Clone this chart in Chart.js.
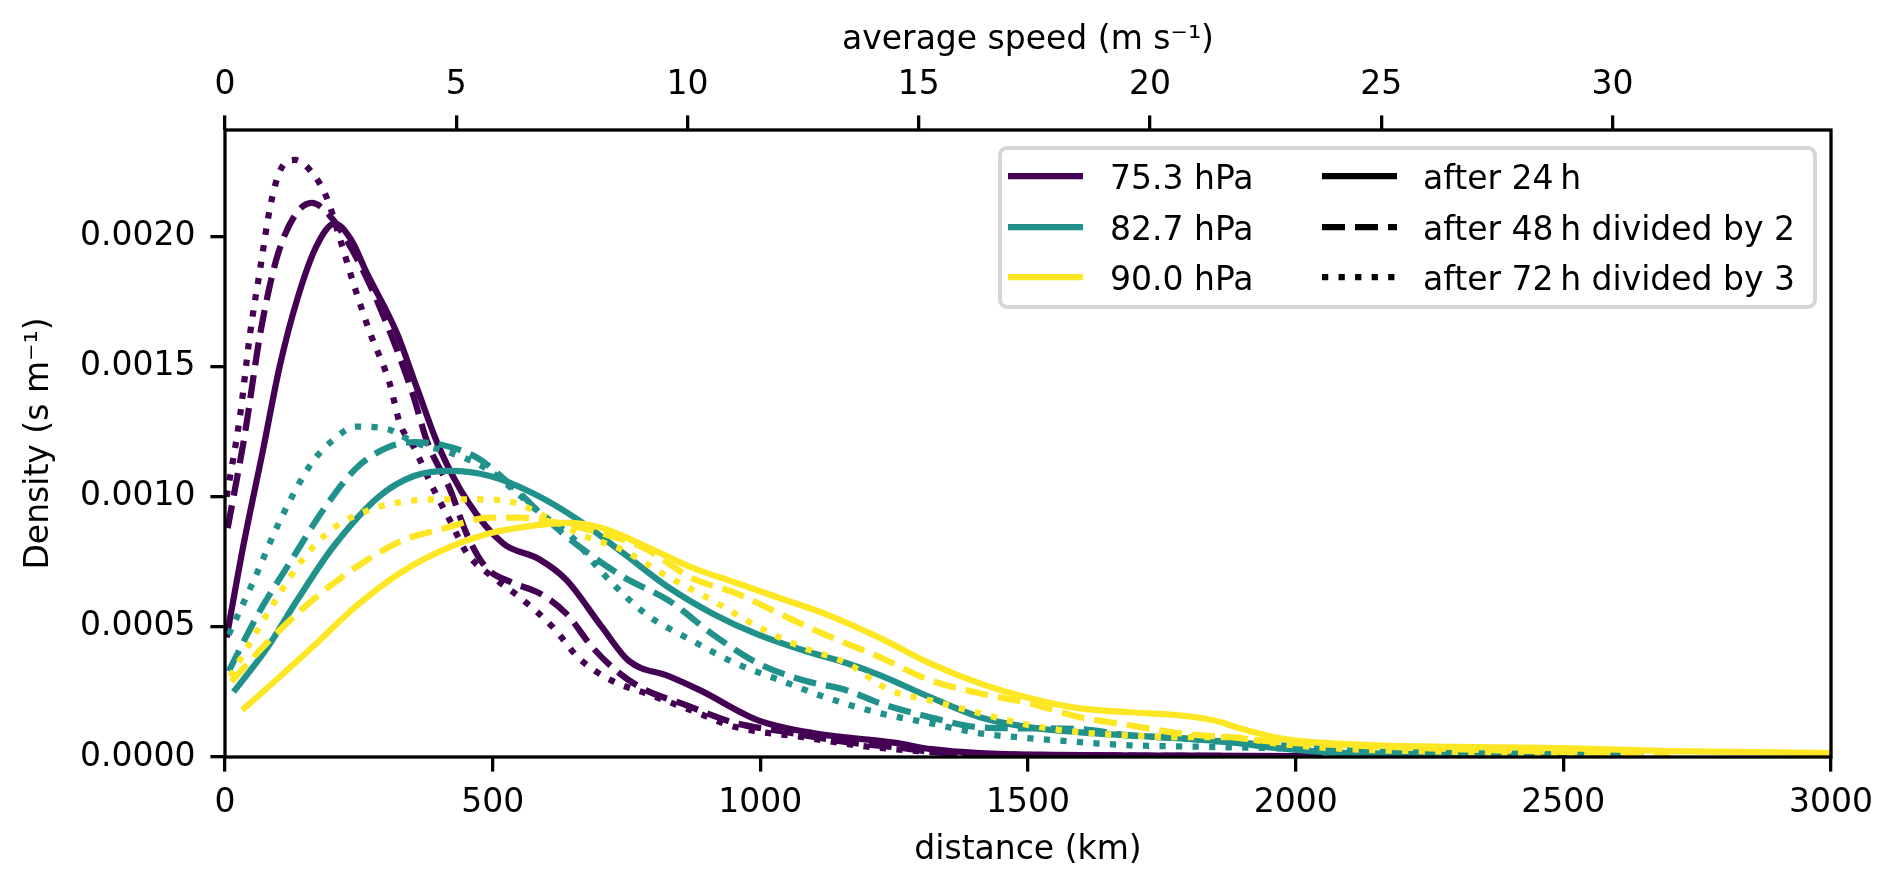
<!DOCTYPE html>
<html>
<head>
<meta charset="utf-8">
<title>Distance density</title>
<script src="https://cdn.jsdelivr.net/npm/chart.js@4.4.1/dist/chart.umd.min.js"></script>
<style>
	html, body { margin: 0; padding: 0; background: #fff; }
	canvas { display: block; }
</style>
</head>
<body>
<canvas id="chart" width="1892" height="885"></canvas>
<script>
// labels
const pressureLabels = [`75.3 hPa`, `82.7 hPa`, `90.0 hPa`];
const timeLabels = [`after 24\u2009h`, `after 48\u2009h divided by 2`, `after 72\u2009h divided by 3`];

// tick values
const distanceTicks = [0, 500, 1000, 1500, 2000, 2500, 3000];
const speedTicks = [0, 5, 10, 15, 20, 25, 30];
const densityTicks = [0, 0.0005, 0.0010, 0.0015, 0.0020];
const kmPerSpeedUnit = 86.4; // 1 m/s over 24 h

// 75.3 hPa
const dist753_24 = [3, 35, 71, 102, 135, 170, 205, 235, 265, 321, 360, 400, 454, 520, 587, 638, 704, 754, 830, 888, 996, 1104, 1250, 1320, 1410, 1550, 1800, 2050];
const dens753_24 = [0.00046, 0.00082, 0.00118, 0.0015, 0.00176, 0.00196, 0.00205, 0.00199, 0.00186, 0.00163, 0.00141, 0.00119, 0.00098, 0.00082, 0.00076, 0.00068, 0.0005, 0.00037, 0.00031, 0.000256, 0.000141, 0.00009, 0.000055, 0.00003, 0.000015, 0.000008, 0.000005, 0.000003];
const dist753_48 = [5, 37, 66, 97, 130, 162, 196, 240, 289, 350, 378, 420, 453, 487, 537, 587, 638, 687, 738, 786, 854, 954, 1037, 1162, 1254, 1320, 1410, 1600, 1850, 2050];
const dens753_48 = [0.00088, 0.00124, 0.00163, 0.00192, 0.00208, 0.00213, 0.00208, 0.00194, 0.00173, 0.0014, 0.00121, 0.00103, 0.00085, 0.00073, 0.00067, 0.00063, 0.00055, 0.00042, 0.00032, 0.000257, 0.000205, 0.00013, 0.0001, 0.000057, 0.000037, 0.00002, 0.00001, 0.000006, 0.000004, 0.000003];
const dist753_72 = [3, 28, 47, 66, 84, 102, 131, 165, 190, 215, 240, 271, 307, 327, 353, 387, 420, 453, 495, 553, 612, 661, 721, 786, 870, 954, 1080, 1200, 1320, 1450, 1700, 2050];
const dens753_72 = [0.001, 0.00131, 0.00163, 0.00188, 0.00211, 0.00225, 0.002295, 0.00224, 0.00215, 0.00199, 0.00182, 0.00163, 0.00144, 0.00128, 0.00119, 0.00104, 0.00091, 0.00078, 0.0007, 0.00061, 0.0005, 0.00038, 0.000295, 0.000245, 0.00018, 0.000115, 0.000076, 0.00004, 0.00002, 0.00001, 0.000005, 0.000003];

// 82.7 hPa
const dist827_24 = [16, 79, 137, 203, 287, 353, 420, 495, 579, 661, 746, 830, 912, 996, 1080, 1162, 1224, 1317, 1410, 1504, 1597, 1690, 1784, 1877, 1971, 2064, 2158, 2400, 2650];
const dens827_24 = [0.00025, 0.00042, 0.00061, 0.00081, 0.001, 0.00108, 0.0011, 0.00108, 0.00101, 0.00091, 0.00078, 0.00065, 0.00055, 0.00047, 0.00041, 0.00036, 0.000314, 0.00023, 0.000153, 0.000114, 0.000095, 0.000083, 0.000072, 0.000057, 0.000033, 0.000018, 0.000012, 0.000006, 0.000003];
const dist827_48 = [7, 62, 119, 187, 245, 304, 353, 404, 471, 537, 603, 661, 746, 830, 912, 996, 1080, 1162, 1224, 1317, 1410, 1504, 1597, 1690, 1784, 1877, 1971, 2096, 2300, 2525, 2650];
const dens827_48 = [0.00033, 0.00055, 0.00074, 0.00096, 0.00111, 0.00119, 0.00121, 0.0012, 0.00115, 0.00104, 0.00091, 0.00081, 0.00069, 0.0006, 0.00047, 0.00036, 0.000295, 0.000256, 0.000206, 0.000153, 0.000114, 0.00011, 0.000107, 0.000083, 0.000072, 0.000057, 0.000045, 0.000025, 0.000018, 0.000012, 0.000005];
const dist827_72 = [7, 54, 103, 162, 203, 245, 304, 353, 420, 487, 537, 587, 646, 704, 786, 870, 954, 1037, 1121, 1224, 1317, 1410, 1504, 1597, 1690, 1784, 1877, 1971, 2064, 2300, 2600];
const dens827_72 = [0.00047, 0.00068, 0.00091, 0.00113, 0.00122, 0.00127, 0.00126, 0.00121, 0.00117, 0.00111, 0.00103, 0.00094, 0.00085, 0.00071, 0.00055, 0.00045, 0.00036, 0.000295, 0.00023, 0.000168, 0.00013, 0.000091, 0.000072, 0.000057, 0.000045, 0.000041, 0.000037, 0.000033, 0.000018, 0.00001, 0.000005];

// 90.0 hPa
const dist900_24 = [32, 95, 162, 245, 329, 412, 495, 579, 638, 704, 786, 870, 954, 1037, 1121, 1224, 1317, 1410, 1504, 1597, 1690, 1784, 1846, 1909, 1971, 2033, 2150, 2387, 2512, 2699, 3000];
const dens900_24 = [0.00018, 0.000295, 0.00042, 0.00058, 0.00071, 0.0008, 0.00086, 0.00089, 0.0009, 0.00088, 0.00081, 0.00073, 0.00067, 0.00061, 0.00055, 0.000457, 0.00036, 0.000283, 0.000226, 0.000187, 0.000172, 0.00016, 0.000141, 0.000103, 0.000072, 0.000057, 0.000045, 0.000037, 0.000033, 0.000023, 0.000015];
const dist900_48 = [12, 79, 162, 245, 329, 412, 495, 553, 620, 704, 786, 870, 954, 1037, 1121, 1224, 1317, 1410, 1504, 1597, 1690, 1784, 1877, 1971, 2096, 2300, 2500, 2700];
const dens900_48 = [0.00029, 0.00044, 0.0006, 0.00073, 0.00083, 0.00088, 0.00092, 0.00092, 0.0009, 0.00086, 0.0008, 0.00069, 0.00063, 0.00055, 0.00047, 0.000383, 0.000295, 0.000245, 0.000206, 0.000153, 0.000122, 0.000091, 0.000076, 0.000057, 0.000045, 0.00003, 0.00002, 0.00001];
const dist900_72 = [10, 79, 145, 203, 270, 329, 404, 471, 537, 603, 671, 738, 830, 912, 996, 1080, 1162, 1242, 1317, 1410, 1504, 1597, 1690, 1784, 1877, 1971, 2100, 2300, 2600];
const dens900_72 = [0.00031, 0.00055, 0.00076, 0.00088, 0.00095, 0.00098, 0.00099, 0.00099, 0.00098, 0.00092, 0.00085, 0.0008, 0.00069, 0.0006, 0.0005, 0.00042, 0.00036, 0.000257, 0.000218, 0.000168, 0.000122, 0.000095, 0.000083, 0.000076, 0.000076, 0.00005, 0.00003, 0.00002, 0.00001];

const viridis = [`#440154`, `#21918c`, `#fde725`];
const lineWidth = 6.25;
const dashes = [[], [23, 10], [6.25, 10.3]];
const fontFamily = `DejaVu Sans`;
const fontSize = 33;

const curves = [
	[[dist753_24, dens753_24], [dist753_48, dens753_48], [dist753_72, dens753_72]],
	[[dist827_24, dens827_24], [dist827_48, dens827_48], [dist827_72, dens827_72]],
	[[dist900_24, dens900_24], [dist900_48, dens900_48], [dist900_72, dens900_72]]
];

let datasets = [];
curves.forEach((byTime, p) => {
	byTime.forEach(([xs, ys], t) => {
		datasets.push({
			label: `${pressureLabels[p]} ${timeLabels[t]}`,
			data: xs.map((x, i) => ({x: x, y: ys[i]})),
			borderColor: viridis[p],
			borderWidth: lineWidth,
			borderDash: dashes[t],
			borderCapStyle: `butt`,
			borderJoinStyle: `round`,
			pointRadius: 0,
			cubicInterpolationMode: `monotone`,
			fill: false,
			xAxisID: `x`,
			yAxisID: `y`,
			order: 100 - datasets.length // later curves on top, like matplotlib
		});
	});
});

const tickGrid = {
	display: true,
	drawOnChartArea: false,
	drawTicks: true,
	tickLength: 14.6,
	lineWidth: 3.3,
	tickWidth: 3.3,
	tickColor: `#000`,
	color: `#000`
};

// frame round the plot area and the two-column legend
const framePlugin = {
	id: `frame`,
	afterDatasetsDraw(chart) {
		const {ctx, chartArea: a} = chart;
		ctx.save();
		ctx.strokeStyle = `#000`;
		ctx.lineWidth = 3.3;
		ctx.setLineDash([]);
		ctx.strokeRect(a.left, a.top, a.right - a.left, a.bottom - a.top);
		ctx.restore();
	},
	afterDraw(chart) {
		const {ctx, chartArea: a} = chart;
		const boxRight = a.right - 16;
		const boxTop = a.top + 18;
		const boxLeft = boxRight - 815;
		const boxBottom = boxTop + 159;
		ctx.save();
		ctx.beginPath();
		ctx.roundRect(boxLeft, boxTop, boxRight - boxLeft, boxBottom - boxTop, 7);
		ctx.fillStyle = `rgba(255,255,255,0.8)`;
		ctx.fill();
		ctx.lineWidth = 4;
		ctx.strokeStyle = `rgba(204,204,204,0.8)`;
		ctx.stroke();

		ctx.font = `${fontSize}px ${fontFamily}`;
		ctx.textBaseline = `alphabetic`;
		ctx.textAlign = `left`;
		ctx.lineWidth = lineWidth;
		ctx.lineCap = `butt`;
		const rowY = [boxTop + 28, boxTop + 79, boxTop + 129];
		const col1 = boxLeft + 8;
		const col2 = boxLeft + 322;
		rowY.forEach((y, i) => {
			ctx.setLineDash([]);
			ctx.strokeStyle = viridis[i];
			ctx.beginPath();
			ctx.moveTo(col1, y);
			ctx.lineTo(col1 + 75, y);
			ctx.stroke();
			ctx.fillStyle = `#000`;
			ctx.fillText(pressureLabels[i], col1 + 102, y + 13);

			ctx.setLineDash(dashes[i]);
			ctx.strokeStyle = `#000`;
			ctx.beginPath();
			ctx.moveTo(col2, y);
			ctx.lineTo(col2 + 75, y);
			ctx.stroke();
			ctx.fillText(timeLabels[i], col2 + 101, y + 13);
		});
		ctx.restore();
	}
};

Chart.defaults.font.family = fontFamily;
Chart.defaults.font.size = fontSize;
Chart.defaults.color = `#000`;

const chart = new Chart(document.getElementById(`chart`), {
	type: `line`,
	data: {datasets: datasets},
	plugins: [framePlugin],
	options: {
		responsive: false,
		devicePixelRatio: 1,
		animation: false,
		layout: {padding: {left: 0, right: 61, top: 0, bottom: 0}},
		plugins: {
			legend: {display: false},
			tooltip: {enabled: false}
		},
		scales: {
			x: {
				type: `linear`,
				position: `bottom`,
				min: 0,
				max: 3000,
				grid: tickGrid,
				border: {display: false},
				afterBuildTicks: scale => { scale.ticks = distanceTicks.map(v => ({value: v})); },
				afterFit: scale => { scale.height = 128; },
				ticks: {
					padding: 12,
					maxRotation: 0,
					callback: v => `${v}`
				},
				title: {
					display: true,
					text: `distance (km)`,
					padding: {top: 0, bottom: 15}
				}
			},
			xTop: {
				type: `linear`,
				position: `top`,
				min: 0,
				max: 3000 / kmPerSpeedUnit,
				grid: tickGrid,
				border: {display: false},
				afterBuildTicks: scale => { scale.ticks = speedTicks.map(v => ({value: v})); },
				afterFit: scale => { scale.height = 130; },
				ticks: {
					padding: 10,
					maxRotation: 0,
					callback: v => `${v}`
				},
				title: {
					display: true,
					text: `average speed (m s\u207B\u00B9)`,
					padding: {top: 21, bottom: 0}
				}
			},
			y: {
				type: `linear`,
				position: `left`,
				min: 0,
				max: 0.00241,
				grid: tickGrid,
				border: {display: false},
				afterBuildTicks: scale => { scale.ticks = densityTicks.map(v => ({value: v})); },
				afterFit: scale => { scale.width = 225; },
				ticks: {
					padding: 15,
					callback: v => Number(v).toFixed(4)
				},
				title: {
					display: true,
					text: `Density (s m\u207B\u00B9)`,
					padding: {top: 20, bottom: 0}
				}
			}
		}
	}
});
</script>
</body>
</html>
